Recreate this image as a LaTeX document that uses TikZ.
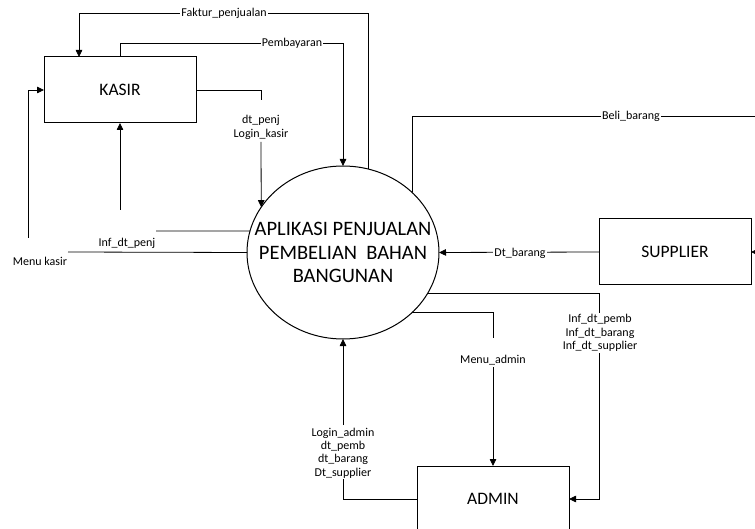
\documentclass[tikz,border=0pt]{standalone}
\usepackage{fontspec}
\setmainfont{Carlito}
\usetikzlibrary{arrows.meta,shapes.geometric}

\tikzset{
  entity/.style={draw, line width=1pt, rectangle, inner sep=0pt, outer sep=0pt,
    minimum width=152pt, minimum height=66pt, font=\fontsize{17.5}{20}\selectfont},
  proc/.style={draw, line width=1pt, ellipse, minimum width=192pt, minimum height=173pt,
    inner sep=0pt, outer sep=0pt},
  proctext/.style={align=center, inner sep=0pt, font=\fontsize{20.5}{23.5}\selectfont},
  flowlbl/.style={font=\fontsize{12}{13.3}\selectfont, align=center, inner sep=0pt},
  onlinelbl/.style={flowlbl, fill=white, inner xsep=1pt},
  flow/.style={draw, line width=0.8pt},
  dflow/.style={flow, -{Triangle[length=7pt,width=6.5pt]}}
}

\begin{document}
\begin{tikzpicture}[x=1pt, y=-1pt]
  \useasboundingbox (0,0) rectangle (755,529);
  \clip (0,0) rectangle (755,529);

  % external entities and the central process
  \node[entity] (kasir) at (120,90) {KASIR};
  \node[proc] (app) at (343,252.5) {};
  \node[proctext] (appText) at (app.center) {APLIKASI PENJUALAN\\PEMBELIAN\ \ BAHAN\\BANGUNAN};
  \node[entity] (supplier) at (675,252) {SUPPLIER};
  \node[entity] (admin) at (493,499) {ADMIN};

  % bend points and free ends of the flows
  \coordinate (fkTop) at (79,13);
  \coordinate (pbTop) at (343,43);
  \coordinate (lkA) at (261,100);
  \coordinate (lkB) at (261,142);
  \coordinate (ipA) at (156,231);
  \coordinate (ipB) at (120,210);
  \coordinate (mkA) at (68,252);
  \coordinate (mkB) at (28,238);
  \coordinate (beliEnd) at (762,116);
  \coordinate (supIn) at (762,252);
  \coordinate (iaA) at (599,313);
  \coordinate (iaB) at (599,353);
  \coordinate (maA) at (493,338);
  \coordinate (maB) at (493,367);
  \coordinate (laA) at (343,479);
  \coordinate (laB) at (343,425);

  % flows between KASIR and the process
  \draw[dflow] (app.73.3) |- (fkTop) -- (fkTop |- kasir.north);
  \draw[dflow] (kasir.north) |- (pbTop) -- (app.north);
  \draw[flow] (kasir.east) -| (lkA);
  \draw[dflow] (lkB) -- (app.151.2);
  \draw[flow] (app.167) -- (ipA);
  \draw[dflow] (ipB) -- (kasir.south);
  \draw[flow] (app.west) -- (mkA);
  \draw[dflow] (mkB) |- (kasir.west);

  % flows between SUPPLIER and the process
  \draw[flow] (app.41.9) |- (beliEnd);
  \draw[dflow] (supplier.west) -- (app.east);
  \draw[dflow] (supIn) -- (supplier.east);

  % flows between ADMIN and the process
  \draw[flow] (app.-26.95) -| (iaA);
  \draw[dflow] (iaB) |- (admin.east);
  \draw[flow] (app.-41.4) -| (maA);
  \draw[dflow] (maB) -- (admin.north);
  \draw[flow] (admin.west) -| (laA);
  \draw[dflow] (laB) -- (app.south);

  % flow labels
  \node[onlinelbl] (lFaktur) at (224,13) {Faktur\_penjualan};
  \node[onlinelbl] (lBayar) at (292,43) {Pembayaran};
  \node[flowlbl] (lKasirIn) at (261,127.5) {dt\_penj\\Login\_kasir};
  \node[flowlbl] (lInfPenj) at (127,243) {Inf\_dt\_penj};
  \node[flowlbl] (lMenuKasir) at (40,261) {Menu kasir};
  \node[onlinelbl] (lBeli) at (631,116) {Beli\_barang};
  \node[onlinelbl] (lDtBarang) at (520,253) {Dt\_barang};
  \node[flowlbl] (lInfAdmin) at (600,333) {Inf\_dt\_pemb\\Inf\_dt\_barang\\Inf\_dt\_supplier};
  \node[flowlbl] (lMenuAdmin) at (493,360) {Menu\_admin};
  \node[flowlbl] (lAdminIn) at (343,453) {Login\_admin\\dt\_pemb\\dt\_barang\\Dt\_supplier};
\end{tikzpicture}
\end{document}
